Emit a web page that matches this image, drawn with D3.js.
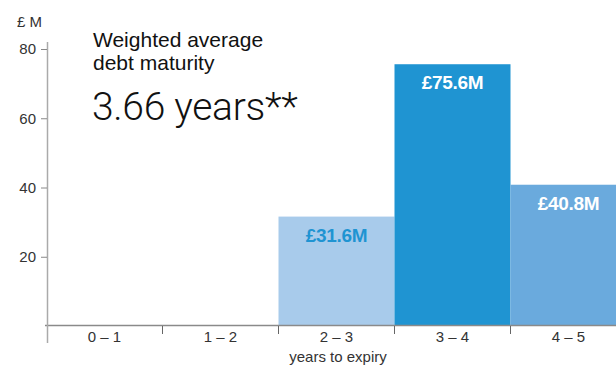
<!DOCTYPE html>
<html>
<head>
<meta charset="utf-8">
<script src="https://cdn.jsdelivr.net/npm/d3@7"></script>
<style>
  body { margin: 0; background: #fff; }
  svg { display: block; font-family: "Liberation Sans", Arial, sans-serif; }
</style>
</head>
<body>
<div id="wrapper"></div>
<script>
// data
const categories = ["0 – 1", "1 – 2", "2 – 3", "3 – 4", "4 – 5"]
const values = [0, 0, 31.6, 75.6, 40.8]
const barColors = ["#fff", "#fff", "#a8cbeb", "#1f94d2", "#6aaadd"]
const labelColors = ["#fff", "#fff", "#1f94d2", "#fff", "#fff"]
const yTicks = [20, 40, 60, 80]

const width = 616
const height = 367

const svg = d3.select("#wrapper").append("svg")
  .attr("width", width)
  .attr("height", height)

// scales
const xScale = d3.scaleBand()
  .domain(categories)
  .range([46.5, 626.5])
  .paddingInner(0)
  .paddingOuter(0)

const yScale = d3.scaleLinear()
  .domain([0, 80])
  .range([326, 49])

const rows = categories.map((c, i) => ({ cat: c, value: values[i], fill: barColors[i], labelFill: labelColors[i] }))

// bars
svg.append("g").selectAll("rect")
  .data(rows.filter(d => d.value > 0))
  .join("rect")
  .attr("x", d => xScale(d.cat))
  .attr("y", d => yScale(d.value))
  .attr("width", xScale.bandwidth())
  .attr("height", d => yScale(0) - yScale(d.value))
  .attr("fill", d => d.fill)

svg.append("g").selectAll("text")
  .data(rows.filter(d => d.value > 0))
  .join("text")
  .attr("x", d => xScale(d.cat) + xScale.bandwidth() / 2)
  .attr("y", d => yScale(d.value) + 25)
  .attr("text-anchor", "middle")
  .attr("fill", d => d.labelFill)
  .style("font-size", "19px")
  .style("font-weight", "bold")
  .style("letter-spacing", "-0.3px")
  .text(d => `£${d.value.toFixed(1)}M`)

// x axis baseline
svg.append("line")
  .attr("x1", 45).attr("x2", width)
  .attr("y1", yScale(0) - 0.5).attr("y2", yScale(0) - 0.5)
  .attr("stroke", "#8a8a8a")
  .attr("stroke-width", 1.5)

// x ticks at band edges
svg.append("g").selectAll("line")
  .data(categories.slice(1))
  .join("line")
  .attr("x1", d => xScale(d)).attr("x2", d => xScale(d))
  .attr("y1", yScale(0)).attr("y2", yScale(0) + 8)
  .attr("stroke", "#666")
  .attr("stroke-width", 1)

const xAxis = svg.append("g")
  .attr("transform", `translate(0, ${yScale(0)})`)
  .call(d3.axisBottom(xScale).tickSize(0).tickPadding(5))
xAxis.select(".domain").remove()
xAxis.selectAll("text")
  .style("font-family", "'Liberation Sans', Arial, sans-serif")
  .style("font-size", "15px")
  .attr("fill", "#333")

svg.append("text")
  .attr("x", 338)
  .attr("y", 362)
  .attr("text-anchor", "middle")
  .attr("fill", "#333")
  .style("font-size", "15px")
  .text("years to expiry")

// y axis
svg.append("line")
  .attr("x1", 47.5).attr("x2", 47.5)
  .attr("y1", 42).attr("y2", 343)
  .attr("stroke", "#aaa")
  .attr("stroke-width", 1.5)

const yAxis = svg.append("g")
  .attr("transform", "translate(47, 0)")
  .call(d3.axisLeft(yScale).tickValues(yTicks).tickSize(6).tickPadding(5))
yAxis.select(".domain").remove()
yAxis.selectAll("line").attr("stroke", "#888")
yAxis.selectAll("text")
  .style("font-family", "'Liberation Sans', Arial, sans-serif")
  .style("font-size", "15px")
  .attr("fill", "#333")

svg.append("text")
  .attr("x", 17)
  .attr("y", 27)
  .attr("fill", "#333")
  .style("font-size", "15px")
  .text("£ M")

// headline
svg.append("text")
  .attr("x", 93)
  .attr("y", 47)
  .attr("fill", "#111")
  .style("font-size", "21px")
  .text("Weighted average")

svg.append("text")
  .attr("x", 93)
  .attr("y", 70)
  .attr("fill", "#111")
  .style("font-size", "21px")
  .text("debt maturity")

svg.append("text")
  .attr("x", 92)
  .attr("y", 120)
  .attr("fill", "#111")
  .style("font-family", "Roboto, 'Liberation Sans', sans-serif")
  .style("font-weight", 300)
  .style("font-size", "39px")
  .style("letter-spacing", "-0.3px")
  .text("3.66 years**")
</script>
</body>
</html>
